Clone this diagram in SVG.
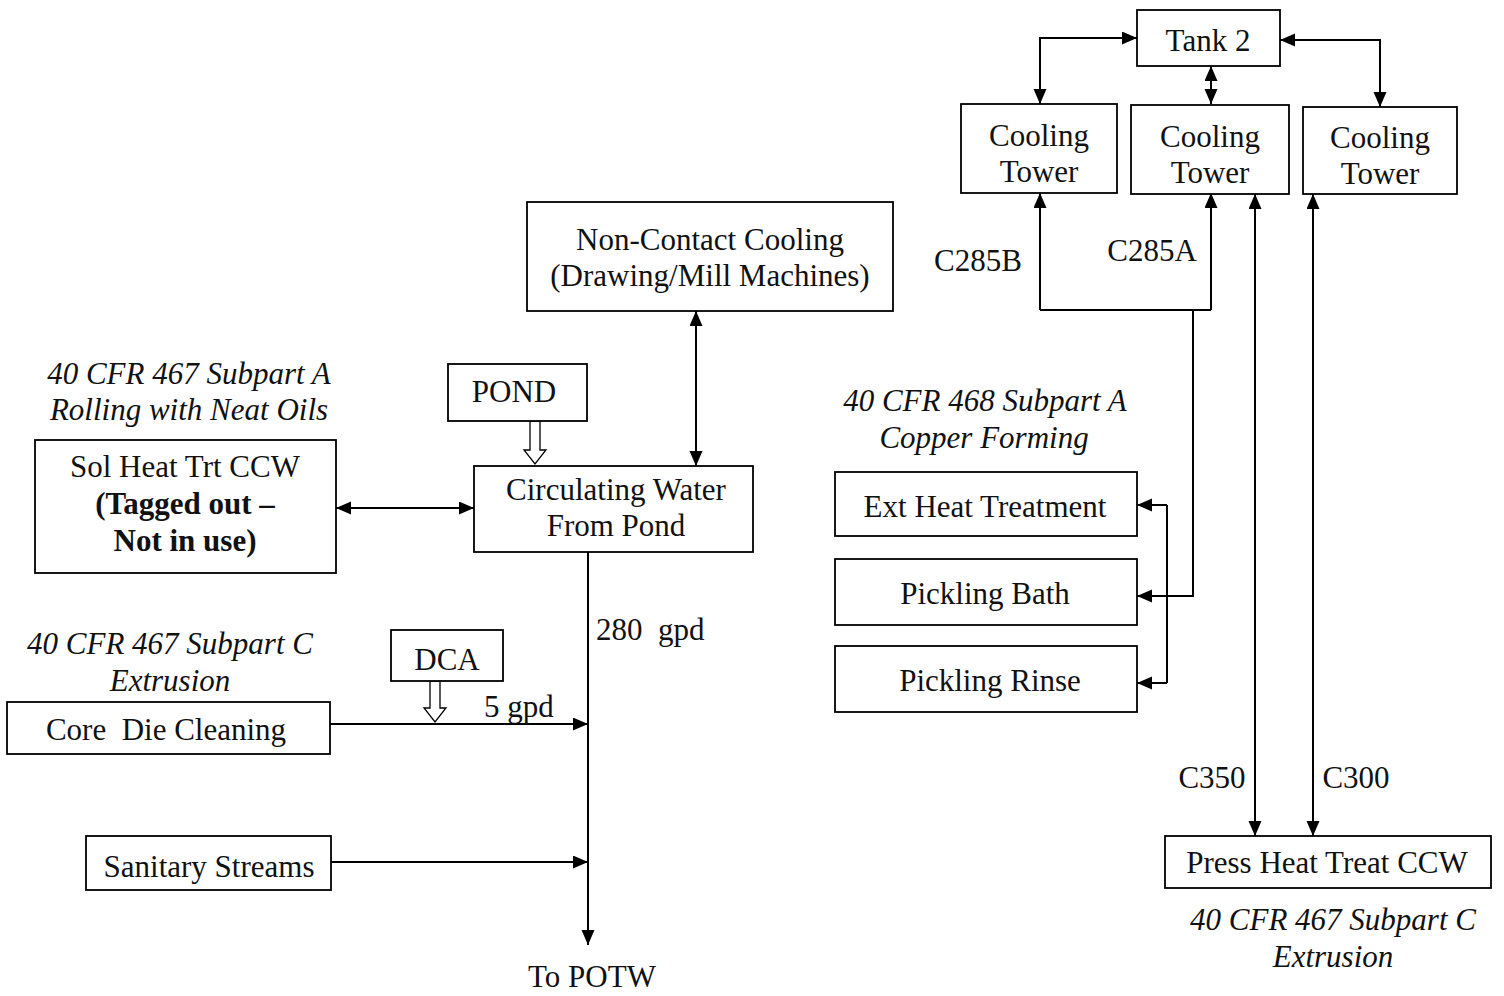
<svg xmlns="http://www.w3.org/2000/svg" width="1504" height="996" viewBox="0 0 1504 996">
<style>
.box{fill:#fff;stroke:#000;stroke-width:1.8}
.t{font-family:"Liberation Serif","Times New Roman",serif;font-size:31px;fill:#111;text-anchor:middle;white-space:pre}
.i{font-style:italic}
.b{font-weight:bold}
.l{text-anchor:start}
.c{fill:none;stroke:#000;stroke-width:2}
.a{marker-end:url(#ah)}
.d{marker-start:url(#ah);marker-end:url(#ah)}
.h{fill:#fff;stroke:#000;stroke-width:1.3}
</style>
<defs>
<marker id="ah" markerUnits="userSpaceOnUse" markerWidth="16" markerHeight="14" refX="15" refY="6.5" orient="auto-start-reverse">
<path d="M0,0 L15,6.5 L0,13 z" fill="#000"/>
</marker>
</defs>
<rect width="1504" height="996" fill="#fff"/>

<g id="connectors">
<path class="c d" d="M1137,38 H1040 V104"/>
<path class="c d" d="M1211,66 V104"/>
<path class="c d" d="M1280,40 H1380 V107"/>
<path class="c a" d="M1040,310 V193"/>
<path class="c a" d="M1211,310 V193"/>
<path class="c" d="M1040,310 H1211"/>
<path class="c a" d="M1193,310 V596 H1137"/>
<path class="c" d="M1167,505 V683"/>
<path class="c a" d="M1167,505 H1137"/>
<path class="c a" d="M1167,683 H1137"/>
<path class="c d" d="M1255,194 V836"/>
<path class="c d" d="M1313,194 V836"/>
<path class="c d" d="M696,311 V466"/>
<path class="c d" d="M336,508 H474"/>
<path class="c a" d="M588,552 V945"/>
<path class="c a" d="M330,724 H588"/>
<path class="c a" d="M331,862 H588"/>
<polygon class="h" points="530,421 540,421 540,450 546,450 535,464 524,450 530,450"/>
<polygon class="h" points="430,681 440,681 440,708 446,708 435,722 424,708 430,708"/>
</g>

<g id="tank2"><rect class="box" x="1137" y="10" width="143" height="56"/><text class="t" x="1208" y="51">Tank 2</text></g>
<g id="ct1"><rect class="box" x="961" y="104" width="156" height="89"/><text class="t" x="1039" y="146">Cooling</text><text class="t" x="1039" y="182">Tower</text></g>
<g id="ct2"><rect class="box" x="1131" y="105" width="158" height="89"/><text class="t" x="1210" y="147">Cooling</text><text class="t" x="1210" y="183">Tower</text></g>
<g id="ct3"><rect class="box" x="1303" y="107" width="154" height="87"/><text class="t" x="1380" y="148">Cooling</text><text class="t" x="1380" y="184">Tower</text></g>

<g id="noncontact"><rect class="box" x="527" y="202" width="366" height="109"/><text class="t" x="710" y="250">Non-Contact Cooling</text><text class="t" x="710" y="286">(Drawing/Mill Machines)</text></g>
<g id="pond"><rect class="box" x="448" y="364" width="139" height="57"/><text class="t" x="514" y="402">POND</text></g>
<g id="circ"><rect class="box" x="474" y="466" width="279" height="86"/><text class="t" x="616" y="500">Circulating Water</text><text class="t" x="616" y="536">From Pond</text></g>
<g id="solheat"><rect class="box" x="35" y="440" width="301" height="133"/><text class="t" x="185" y="477">Sol Heat Trt CCW</text><text class="t b" x="185" y="514">(Tagged out –</text><text class="t b" x="185" y="551">Not in use)</text></g>
<g id="dca"><rect class="box" x="391" y="630" width="112" height="51"/><text class="t" x="447" y="670">DCA</text></g>
<g id="coredie"><rect class="box" x="7" y="702" width="323" height="52"/><text class="t" x="166" y="740">Core  Die Cleaning</text></g>
<g id="sanitary"><rect class="box" x="86" y="836" width="245" height="54"/><text class="t" x="209" y="877">Sanitary Streams</text></g>
<g id="extheat"><rect class="box" x="835" y="472" width="302" height="64"/><text class="t" x="985" y="517">Ext Heat Treatment</text></g>
<g id="pbath"><rect class="box" x="835" y="559" width="302" height="66"/><text class="t" x="985" y="604">Pickling Bath</text></g>
<g id="prinse"><rect class="box" x="835" y="646" width="302" height="66"/><text class="t" x="990" y="691">Pickling Rinse</text></g>
<g id="pressheat"><rect class="box" x="1165" y="836" width="326" height="52"/><text class="t" x="1327" y="873">Press Heat Treat CCW</text></g>

<g id="labels">
<text class="t i" x="189" y="384">40 CFR 467 Subpart A</text>
<text class="t i" x="189" y="420">Rolling with Neat Oils</text>
<text class="t i" x="170" y="654">40 CFR 467 Subpart C</text>
<text class="t i" x="170" y="691">Extrusion</text>
<text class="t i" x="985" y="411">40 CFR 468 Subpart A</text>
<text class="t i" x="984" y="448">Copper Forming</text>
<text class="t i" x="1333" y="930">40 CFR 467 Subpart C</text>
<text class="t i" x="1333" y="967">Extrusion</text>
<text class="t l" x="596" y="640">280  gpd</text>
<text class="t l" x="484" y="717">5 gpd</text>
<text class="t" x="978" y="271">C285B</text>
<text class="t" x="1152" y="261">C285A</text>
<text class="t" x="1212" y="788">C350</text>
<text class="t" x="1356" y="788">C300</text>
<text class="t" x="592" y="987">To POTW</text>
</g>
</svg>
